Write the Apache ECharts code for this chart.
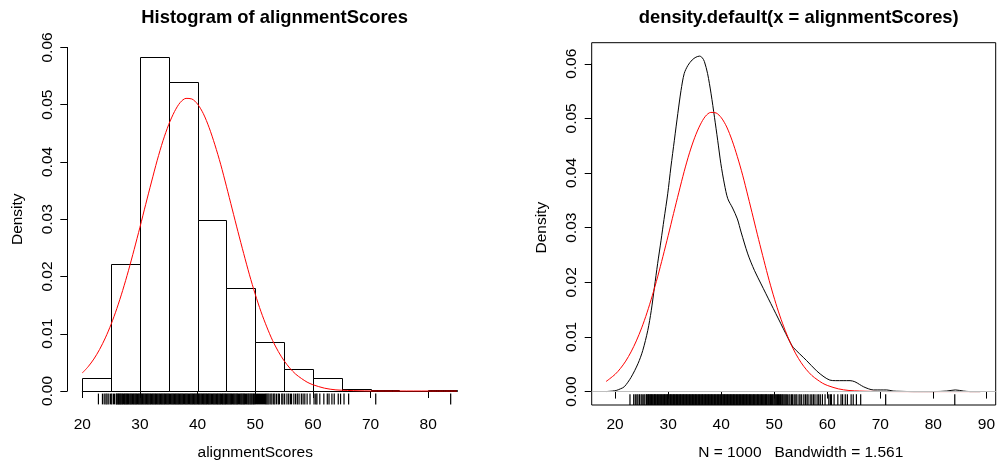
<!DOCTYPE html>
<html><head><meta charset="utf-8">
<script src="https://cdn.jsdelivr.net/npm/echarts@6/dist/echarts.min.js"></script>
<style>html,body{margin:0;padding:0;background:#fff}#c{width:998px;height:466px}</style>
</head><body><div id="c"></div>
<script>
// ---------- data ----------
const histBreaks = [20,25,30,35,40,45,50,55,60,65,70,75,80,85];
const histDensity = [0.0022,0.0222,0.0584,0.0540,0.0298,0.0180,0.0086,0.0038,0.0022,0.0004,0.0002,0.0000,0.0002];

const densX = [18.3,19.5,20.2,21.0,21.75,23.0,24.3,25.2,26.15,26.8,27.4,28.0,28.65,29.2,29.9,30.5,31.15,31.8,32.4,33.0,33.7,34.5,35.2,35.9,36.4,36.8,37.4,38.06,38.7,39.3,39.9,40.56,41.2,42.1,43.0,43.7,44.96,46.2,47.46,49.3,51.2,53.0,53.5,56.0,57.9,59.3,60.4,61.5,62.9,64.2,65.1,66.0,66.7,67.7,68.6,70.0,71.1,72.3,73.6,76.0,80.0,82.4,84.0,85.5,86.8,88.7];
const densY = [0.0000,0.0001,0.0002,0.0005,0.0009,0.0026,0.0051,0.0075,0.0112,0.0148,0.0191,0.0234,0.0277,0.0315,0.0362,0.0411,0.0460,0.0509,0.0551,0.0582,0.0597,0.0607,0.0612,0.0614,0.0611,0.0604,0.0582,0.0545,0.0502,0.0460,0.0417,0.0380,0.0353,0.0336,0.0316,0.0292,0.0252,0.0222,0.0197,0.0161,0.0124,0.0089,0.0081,0.0057,0.0038,0.0027,0.0021,0.0020,0.0020,0.0020,0.0018,0.0013,0.0009,0.0005,0.0003,0.0003,0.0003,0.0001,0.00005,0.0000,0.0000,0.0001,0.0003,0.0001,0.0000,0.0000];

const normX = [18.3,20,21,22,23,24,25,26,27,28,29,30,31,32,33,34,35,36,37,38,39,40,41,42,43,44,45,46,47,48,49,50,51,52,53,54,55,56,57,58,59,60,62,64,66,68,70,75,80,85,88.7];
const normY = [0.00184,0.00315,0.00423,0.00558,0.00726,0.00928,0.01166,0.01442,0.01755,0.0210,0.02473,0.0286,0.0326,0.0365,0.0403,0.0437,0.04655,0.0488,0.0504,0.0511,0.0510,0.0501,0.04843,0.0460,0.0430,0.0396,0.03576,0.0318,0.02784,0.0240,0.02029,0.0169,0.01385,0.0112,0.00884,0.0069,0.00529,0.0040,0.00296,0.0022,0.00155,0.0011,0.0005,0.0002,0.0001,0.00004,0.00001,0,0,0,0];

const rugValues = [22.8,23.5,23.8,24.1,24.3,24.6,24.9,25.1,25.4,25.6,25.9,
26.0,26.15,26.3,26.42,26.58,26.7,26.85,27.0,27.14,27.3,27.43,27.57,27.7,27.86,28.0,28.13,28.29,28.42,28.58,28.7,28.86,29.0,29.15,29.28,29.43,29.57,29.72,29.86,
30.0,30.14,30.3,30.43,30.57,30.71,30.86,31.0,31.15,31.28,31.43,31.57,31.72,31.86,32.0,32.15,32.29,32.43,32.58,32.72,32.86,33.0,33.14,33.29,33.43,33.57,33.71,33.86,
34.0,34.15,34.29,34.43,34.57,34.72,34.86,35.0,35.14,35.29,35.43,35.58,35.72,35.86,36.0,36.14,36.29,36.43,36.57,36.72,36.86,37.0,37.15,37.29,37.43,37.57,37.72,37.86,
38.0,38.14,38.29,38.43,38.58,38.72,38.86,39.0,39.15,39.29,39.43,39.57,39.71,39.86,40.0,40.14,40.29,40.43,40.58,40.72,40.86,41.0,41.15,41.29,41.43,41.57,41.72,41.86,
42.0,42.14,42.29,42.43,42.57,42.72,42.86,43.0,43.15,43.29,43.43,43.57,43.72,43.86,44.0,44.15,44.3,44.43,44.58,44.72,44.86,45.0,45.15,45.3,45.45,45.6,45.74,45.9,
46.05,46.2,46.35,46.5,46.66,46.8,46.95,47.1,47.26,47.4,47.56,47.7,47.86,48.0,48.16,48.3,48.47,48.6,48.78,48.92,49.1,49.25,49.4,49.58,49.72,49.9,
50.05,50.22,50.4,50.56,50.75,50.9,51.1,51.25,51.45,51.6,51.8,52.0,52.2,52.4,
52.7,52.9,53.2,53.4,53.7,54.0,54.2,54.6,54.8,55.1,55.5,55.8,56.1,56.3,56.7,57.0,57.3,57.6,58.0,58.3,
58.6,59.0,59.5,60.2,60.5,60.7,61.2,61.9,62.5,62.8,63.3,63.7,64.4,64.8,65.4,66.2,70.9,83.9];

const leftTitle = 'Histogram of alignmentScores';
const rightTitle = 'density.default(x = alignmentScores)';
const leftXName = 'alignmentScores';
const rightXName = 'N = 1000   Bandwidth = 1.561';
const yName = 'Density';

// ---------- layout ----------
const FONT = 'Liberation Sans, Arial, Helvetica, sans-serif';
const FS = 15.5;
const LP = {left:67.3, top:43.2, width:404.7, height:361.2, xmin:17.4, xmax:87.6, ymin:-0.002336, ymax:0.060736, tx0:20, tx1:80, ty0:0, ty1:0.06};
const RP = {left:591.7, top:42.7, width:404, height:362.3, xmin:15.6, xmax:91.6, ymin:-0.002456, ymax:0.063856, tx0:20, tx1:90, ty0:0, ty1:0.06};
function axisGrid(g){
  const sx = g.width/(g.xmax-g.xmin), sy = g.height/(g.ymax-g.ymin);
  const l = g.left + (g.tx0-g.xmin)*sx, r = g.left + (g.tx1-g.xmin)*sx;
  const t = g.top + (g.ymax-g.ty1)*sy, b = g.top + (g.ymax-g.ty0)*sy;
  return {left:l, top:t, width:r-l, height:b-t, xOff:g.top+g.height-b, yOff:l-g.left};
}
const LA = axisGrid(LP), RA = axisGrid(RP);

function hiddenX(g, gi){ return {type:'value', gridIndex:gi, min:g.xmin, max:g.xmax, show:false}; }
function hiddenY(g, gi){ return {type:'value', gridIndex:gi, min:g.ymin, max:g.ymax, show:false}; }
const axisLineStyle = {show:true, lineStyle:{color:'#000', width:1}};
const tickStyle = {show:true, length:7, lineStyle:{color:'#000', width:1}};
function visX(g, a, gi, name){
  return {type:'value', gridIndex:gi, min:g.tx0, max:g.tx1, interval:10, offset:a.xOff,
    axisLine:axisLineStyle, axisTick:tickStyle, splitLine:{show:false},
    axisLabel:{color:'#000', fontFamily:FONT, fontSize:FS, margin:12, showMinLabel:true, showMaxLabel:true},
    name:name, nameLocation:'middle', nameGap:40, nameTextStyle:{color:'#000', fontFamily:FONT, fontSize:FS}};
}
function visY(g, a, gi){
  return {type:'value', gridIndex:gi, min:g.ty0, max:g.ty1, interval:0.01, offset:a.yOff,
    axisLine:axisLineStyle, axisTick:tickStyle, splitLine:{show:false},
    axisLabel:{color:'#000', fontFamily:FONT, fontSize:FS, margin:12, rotate:90, formatter:v=>v.toFixed(2), showMinLabel:true, showMaxLabel:true},
    name:yName, nameLocation:'middle', nameRotate:90, nameGap:42, nameTextStyle:{color:'#000', fontFamily:FONT, fontSize:FS}};
}

const histData = histDensity.map((d,i)=>[histBreaks[i], histBreaks[i+1], d]);
const pairs = (xs, ys, lo, hi) => xs.map((x,i)=>[x, ys[i]]).filter(p=>p[0]>=lo && p[0]<=hi);

function rugSeries(xi, yi, ymin){
  return {type:'custom', xAxisIndex:xi, yAxisIndex:yi, silent:true, clip:false,
    data: rugValues.map(v=>[v]),
    renderItem:(params, api)=>{
      const p = api.coord([api.value(0), ymin]);
      return {type:'line', shape:{x1:p[0], y1:p[1], x2:p[0], y2:p[1]-10.8}, style:{stroke:'#000', lineWidth:1.2}};
    }};
}

const option = {
  animation:false,
  backgroundColor:'#fff',
  title:[
    {text:leftTitle, left:LP.left+LP.width/2, top:4, textAlign:'center', textStyle:{fontFamily:FONT, fontSize:18.4, fontWeight:'bold', color:'#000'}},
    {text:rightTitle, left:RP.left+RP.width/2, top:4, textAlign:'center', textStyle:{fontFamily:FONT, fontSize:18.4, fontWeight:'bold', color:'#000'}}
  ],
  grid:[
    {left:LP.left, top:LP.top, width:LP.width, height:LP.height, show:false},
    {left:LA.left, top:LA.top, width:LA.width, height:LA.height, show:false},
    {left:RP.left, top:RP.top, width:RP.width, height:RP.height, show:true, borderColor:'#000', borderWidth:1, backgroundColor:'transparent'},
    {left:RA.left, top:RA.top, width:RA.width, height:RA.height, show:false}
  ],
  xAxis:[hiddenX(LP,0), visX(LP,LA,1,leftXName), hiddenX(RP,2), visX(RP,RA,3,rightXName)],
  yAxis:[hiddenY(LP,0), visY(LP,LA,1), hiddenY(RP,2), visY(RP,RA,3)],
  series:[
    {type:'custom', xAxisIndex:0, yAxisIndex:0, silent:true, clip:false, data:histData,
      renderItem:(params, api)=>{
        const p0 = api.coord([api.value(0), api.value(2)]);
        const p1 = api.coord([api.value(1), 0]);
        const x0 = Math.round(p0[0])+0.5, x1 = Math.round(p1[0])+0.5;
        const y0 = Math.round(p0[1])+0.5, y1 = Math.round(p1[1])+0.5;
        return {type:'rect', shape:{x:x0, y:y0, width:x1-x0, height:y1-y0}, style:{fill:'#fff', stroke:'#000', lineWidth:1}};
      }},
    {type:'line', xAxisIndex:0, yAxisIndex:0, data:pairs(normX, normY, 20, 85), showSymbol:false, smooth:0.3, silent:true,
      lineStyle:{color:'#ff0000', width:1}},
    rugSeries(0, 0, LP.ymin),
    {type:'line', xAxisIndex:2, yAxisIndex:2, data:pairs(densX, densY, -1e9, 1e9), showSymbol:false, smooth:0.3, silent:true,
      lineStyle:{color:'#000', width:1},
      markLine:{silent:true, symbol:'none', label:{show:false}, lineStyle:{color:'#bebebe', width:1, type:'solid'}, data:[{yAxis:0}]}},
    {type:'line', xAxisIndex:2, yAxisIndex:2, data:pairs(normX, normY, -1e9, 1e9), showSymbol:false, smooth:0.3, silent:true,
      lineStyle:{color:'#ff0000', width:1}},
    rugSeries(2, 2, RP.ymin)
  ]
};
const chart = echarts.init(document.getElementById('c'), null, {renderer:'canvas'});
chart.setOption(option);
</script></body></html>
